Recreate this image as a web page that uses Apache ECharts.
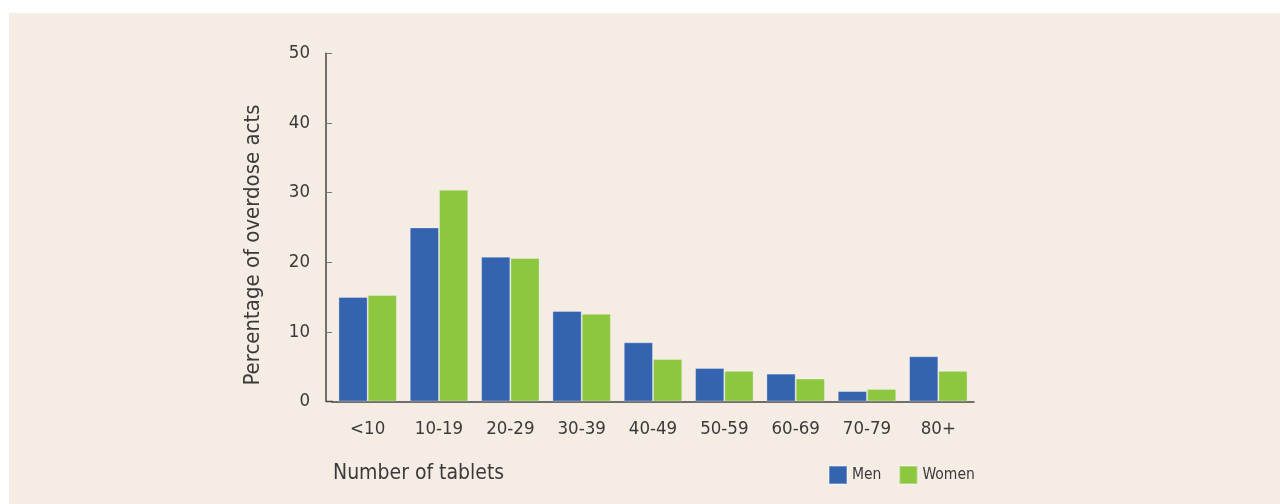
<!DOCTYPE html>
<html><head><meta charset="utf-8">
<script src="https://cdn.jsdelivr.net/npm/echarts@6/dist/echarts.min.js"></script>
<style>html,body{margin:0;padding:0;background:#fff;}#c{width:1280px;height:504px;}</style>
</head><body><div id="c"></div>
<script>
const categories = ['<10','10-19','20-29','30-39','40-49','50-59','60-69','70-79','80+'];
const men =   [15.0, 25.0, 20.8, 13.0, 8.5, 4.8, 4.0, 1.5, 6.5];
const women = [15.3, 30.4, 20.6, 12.6, 6.1, 4.4, 3.3, 1.8, 4.4];
const yTicks = { min: 0, max: 50, interval: 10 };

const FONT = '"DejaVu Sans Condensed","Liberation Sans",sans-serif';
const TXT = '#3a3a3a';
const chart = echarts.init(document.getElementById('c'), null, {renderer:'canvas'});
chart.setOption({
  backgroundColor: '#ffffff',
  animation: false,
  graphic: [
    { type: 'rect', z: -10, shape: { x: 9, y: 13, width: 1271, height: 491 }, style: { fill: '#F5ECE4' } },
    { type: 'line', z: 5, shape: { x1: 326, y1: 401.5, x2: 333, y2: 401.5 }, style: { stroke: '#444', lineWidth: 1.5 } },
    { type: 'text', left: 333, top: 463, style: { text: 'Number of tablets', font: '21px ' + FONT, fill: TXT } },
    { type: 'text', x: 253, y: 245, rotation: Math.PI / 2,
      style: { text: 'Percentage of overdose acts', font: '22px ' + FONT, fill: TXT, align: 'center', verticalAlign: 'middle' } }
  ],
  legend: {
    left: 828, top: 465, itemWidth: 18, itemHeight: 18, itemGap: 17, padding: 0,
    icon: 'rect',
    textStyle: { fontFamily: FONT, fontSize: 15.5, color: TXT, padding: [0,0,0,0] },
    data: ['Men','Women']
  },
  grid: { left: 332, right: 306, top: 53.3, bottom: 102.5, containLabel: false },
  xAxis: {
    type: 'category', data: categories,
    axisLine: { lineStyle: { color: '#444', width: 1.5 } },
    axisTick: { inside: true, length: 5, lineStyle: { color: '#333' } },
    axisLabel: { interval: 0, fontFamily: FONT, fontSize: 18.5, color: TXT, margin: 18 }
  },
  yAxis: {
    type: 'value', min: yTicks.min, max: yTicks.max, interval: yTicks.interval,
    offset: 6,
    axisLine: { show: true, lineStyle: { color: '#444', width: 1.5 } },
    axisTick: { show: true, inside: true, length: 6, lineStyle: { color: '#777' } },
    axisLabel: { fontFamily: FONT, fontSize: 18.5, color: TXT, margin: 16 },
    splitLine: { show: false }
  },
  series: [
    { name: 'Men', type: 'bar', data: men, barGap: '0%', barCategoryGap: '18%',
      itemStyle: { color: '#3463AF', borderColor: 'rgba(255,255,255,0.3)', borderWidth: 1 } },
    { name: 'Women', type: 'bar', data: women, barGap: '0%', barCategoryGap: '18%',
      itemStyle: { color: '#8DC63F', borderColor: 'rgba(255,255,255,0.3)', borderWidth: 1 } }
  ]
});
</script></body></html>
